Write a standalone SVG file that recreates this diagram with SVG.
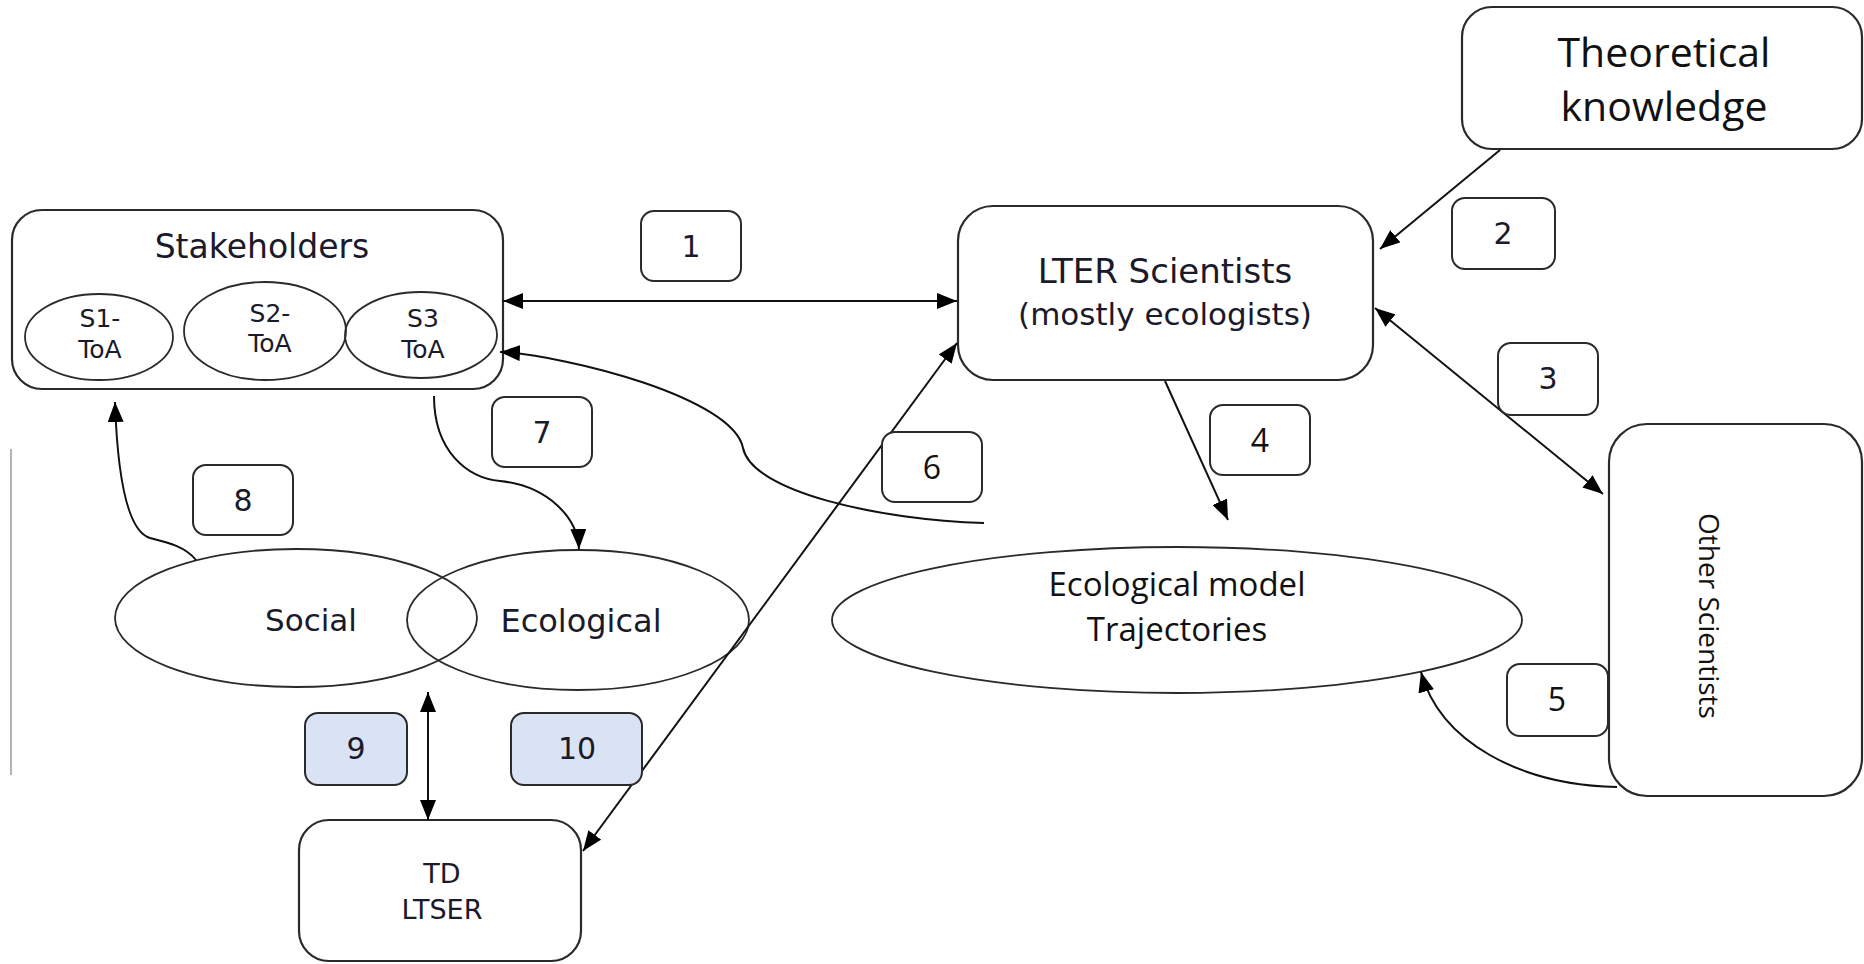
<svg xmlns="http://www.w3.org/2000/svg" width="1864" height="964" viewBox="0 0 1864 964">
<style>
.box{fill:#fff;stroke:#2a2a2a;stroke-width:2.2}
.ell{fill:none;stroke:#2a2a2a;stroke-width:1.8}
.lbl{fill:#fff;stroke:#2a2a2a;stroke-width:2}
.lblb{fill:#dae3f3;stroke:#2a2a2a;stroke-width:2}
.con{fill:none;stroke:#111;stroke-width:2}
.t{font-family:"DejaVu Sans",Verdana,sans-serif;fill:#1a1a2a;text-anchor:middle}
.c{font-family:"Open Sans","Noto Sans",sans-serif;fill:#111;text-anchor:middle}
</style>
<defs>
<marker id="ah" viewBox="0 0 10 8" refX="10" refY="4" markerWidth="10" markerHeight="8" orient="auto-start-reverse" markerUnits="strokeWidth">
<path d="M0,0 L10,4 L0,8 z" fill="#000"/>
</marker>
</defs>
<rect width="1864" height="964" fill="#fff"/>
<line x1="11" y1="449" x2="11" y2="775" stroke="#9a9a9a" stroke-width="1.5"/>

<g id="theoretical">
<rect class="box" x="1462" y="7" width="400" height="142" rx="30"/>
<text class="c" x="1664" y="67" font-size="41">Theoretical</text>
<text class="c" x="1664" y="121" font-size="41">knowledge</text>
</g>

<g id="stakeholders">
<rect class="box" x="12" y="210" width="491" height="179" rx="30"/>
<text class="t" x="262" y="258" font-size="33">Stakeholders</text>
<g id="s1">
<ellipse class="ell" cx="99" cy="337" rx="74" ry="43"/>
<text class="t" x="100" y="327" font-size="25">S1-</text>
<text class="t" x="100" y="358" font-size="25">ToA</text>
</g>
<g id="s2">
<ellipse class="ell" cx="265" cy="331" rx="81" ry="49"/>
<text class="t" x="270" y="322" font-size="25">S2-</text>
<text class="t" x="270" y="352" font-size="25">ToA</text>
</g>
<g id="s3">
<ellipse class="ell" cx="421" cy="335" rx="76" ry="43"/>
<text class="t" x="423" y="327" font-size="25">S3</text>
<text class="t" x="423" y="358" font-size="25">ToA</text>
</g>
</g>

<g id="lter">
<rect class="box" x="958" y="206" width="415" height="174" rx="35"/>
<text class="t" x="1165" y="283" font-size="34">LTER Scientists</text>
<text class="t" x="1165" y="325" font-size="31">(mostly ecologists)</text>
</g>

<g id="other">
<rect class="box" x="1609" y="424" width="253" height="372" rx="38"/>
<text class="c" font-size="28" transform="translate(1699,616) rotate(90)">Other Scientists</text>
</g>

<g id="ecomodel">
<ellipse class="ell" cx="1177" cy="620" rx="345" ry="73"/>
<text class="c" x="1177" y="596" font-size="33">Ecological model</text>
<text class="c" x="1177" y="641" font-size="33">Trajectories</text>
</g>

<g id="social">
<ellipse class="ell" cx="296" cy="618" rx="181" ry="69"/>
<text class="t" x="311" y="631" font-size="31">Social</text>
</g>

<g id="ecological">
<ellipse class="ell" cx="578" cy="620" rx="171" ry="70"/>
<text class="t" x="581" y="632" font-size="32">Ecological</text>
</g>

<g id="td">
<rect class="box" x="299" y="820" width="282" height="141" rx="30"/>
<text class="t" x="442" y="883" font-size="27">TD</text>
<text class="t" x="442" y="919" font-size="27">LTSER</text>
</g>

<g id="connectors">
<line class="con" x1="503" y1="301" x2="957" y2="301" marker-start="url(#ah)" marker-end="url(#ah)"/>
<line class="con" x1="1500" y1="150" x2="1380" y2="249" marker-end="url(#ah)"/>
<line class="con" x1="1375" y1="308" x2="1603" y2="494" marker-start="url(#ah)" marker-end="url(#ah)"/>
<line class="con" x1="1165" y1="381" x2="1228" y2="520" marker-end="url(#ah)"/>
<path class="con" d="M1617 787 C1520 785 1440 742 1421 672" marker-end="url(#ah)"/>
<line class="con" x1="957" y1="343" x2="583" y2="851" marker-start="url(#ah)" marker-end="url(#ah)"/>
<path class="con" d="M984 523 C880 520 752 492 743 448 C733 398 570 356 500 352" marker-end="url(#ah)"/>
<path class="con" d="M434 396 C434 452 468 478 500 481 C548 486 578 518 579 549" marker-end="url(#ah)"/>
<path class="con" d="M196 560 C185 546 166 542 150 538 C124 530 117 462 115 402" marker-end="url(#ah)"/>
<line class="con" x1="428" y1="692" x2="428" y2="820" marker-start="url(#ah)" marker-end="url(#ah)"/>
</g>

<g id="label1"><rect class="lbl" x="641" y="211" width="100" height="70" rx="13"/><text class="t" x="691" y="257" font-size="30">1</text></g>
<g id="label2"><rect class="lbl" x="1452" y="198" width="103" height="71" rx="13"/><text class="t" x="1503" y="244" font-size="30">2</text></g>
<g id="label3"><rect class="lbl" x="1498" y="343" width="100" height="72" rx="13"/><text class="t" x="1548" y="389" font-size="30">3</text></g>
<g id="label4"><rect class="lbl" x="1210" y="405" width="100" height="70" rx="13"/><text class="c" x="1260" y="452" font-size="32">4</text></g>
<g id="label5"><rect class="lbl" x="1507" y="664" width="101" height="72" rx="13"/><text class="c" x="1557" y="711" font-size="32">5</text></g>
<g id="label6"><rect class="lbl" x="882" y="432" width="100" height="70" rx="13"/><text class="c" x="932" y="479" font-size="32">6</text></g>
<g id="label7"><rect class="lbl" x="492" y="397" width="100" height="70" rx="13"/><text class="t" x="542" y="443" font-size="30">7</text></g>
<g id="label8"><rect class="lbl" x="193" y="465" width="100" height="70" rx="13"/><text class="t" x="243" y="511" font-size="30">8</text></g>
<g id="label9"><rect class="lblb" x="305" y="713" width="102" height="72" rx="13"/><text class="t" x="356" y="759" font-size="30">9</text></g>
<g id="label10"><rect class="lblb" x="511" y="713" width="131" height="72" rx="13"/><text class="t" x="577" y="759" font-size="30">10</text></g>
</svg>
